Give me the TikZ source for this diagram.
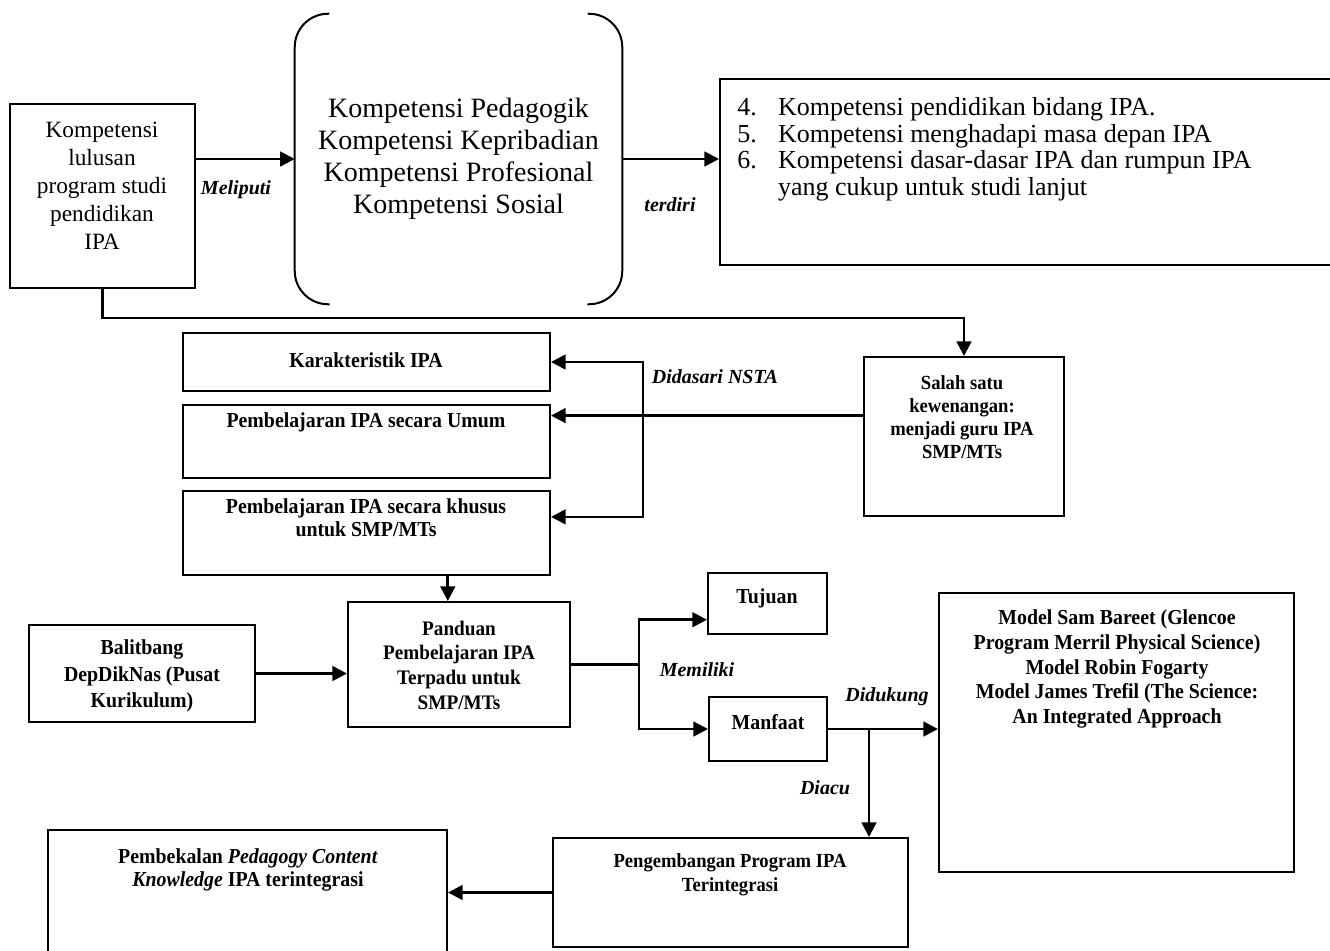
\documentclass[tikz,border=0pt]{standalone}
\usepackage{fontspec}
\setmainfont{Liberation Serif}
\newfontfamily\condfont[FakeStretch=0.93]{Liberation Serif}
\usetikzlibrary{arrows.meta,positioning,fit,calc}
\tikzset{
  boxnode/.style={rectangle,draw=black,line width=1.5pt,inner sep=0pt},
  txtnode/.style={align=center,inner sep=0pt,font=\condfont\bfseries\fontsize{16}{17.5}\selectfont},
  lblnode/.style={inner sep=0pt,font=\fontsize{15}{18}\selectfont\bfseries\itshape},
  arr/.style={-{Triangle[length=11pt,width=11pt]},line width=2pt},
  ln/.style={line width=2pt}
}

\begin{document}
\begin{tikzpicture}[x=0.75pt,y=-0.75pt]
  \useasboundingbox (0,0) rectangle (1330,950);
  \clip (0,0) rectangle (1330,950);

  %% Top row
  \node[boxnode,fit={(10,104)(195,288)}] (kompA) {};
  \node[txtnode,font=\fontsize{17.5}{21}\selectfont] (kompAT) at (102,186) {Kompetensi\\lulusan\\program studi\\pendidikan\\IPA};

  \node[fit={(295,14)(622,304)},inner sep=0pt] (brk) {};
  \draw[line width=1.5pt,rounded corners=25pt] ([xshift=26pt]brk.north west) -| (brk.south west) -- ++(35,0);
  \draw[line width=1.5pt,rounded corners=25pt] ([xshift=-26pt]brk.north east) -| (brk.south east) -- ++(-35,0);
  \node[txtnode,font=\fontsize{21}{24}\selectfont] (brkT) at (brk.center) {Kompetensi Pedagogik\\Kompetensi Kepribadian\\Kompetensi Profesional\\Kompetensi Sosial};

  \node[boxnode,fit={(720,79)(1345,265)}] (listC) {};
  \node[anchor=west,inner sep=0pt,font=\fontsize{19.5}{20}\selectfont] (listCT) at (737,150) {%
    \begin{tabular}{@{}l@{\hspace{16pt}}l@{}}
      4. & Kompetensi pendidikan bidang IPA.\\
      5. & Kompetensi menghadapi masa depan IPA\\
      6. & Kompetensi dasar-dasar IPA dan rumpun IPA\\
         & yang cukup untuk studi lanjut
    \end{tabular}};

  \draw[arr] (kompA.east |- brk.west) -- (brk.west);
  \node[lblnode] (melL) at (236,190) {Meliputi};
  \draw[arr] (brk.east) -- (brk.east -| listC.west);
  \node[lblnode] (terL) at (670,205) {terdiri};

  %% Middle row
  \node[boxnode,fit={(183,333)(550,391)}] (karak) {};
  \node[txtnode] (karakT) at (366,360) {Karakteristik IPA};
  \node[boxnode,fit={(183,405)(550,478)}] (umum) {};
  \node[txtnode] (umumT) at (366,422) {Pembelajaran IPA secara Umum};
  \node[boxnode,fit={(183,491)(550,575)}] (khusus) {};
  \node[txtnode] (khususT) at (366,518) {Pembelajaran IPA secara khusus\\untuk SMP/MTs};

  \node[boxnode,fit={(864,357)(1064,516)}] (salah) {};
  \node[txtnode,font=\condfont\bfseries\fontsize{15}{17.25}\selectfont] (salahT) at (962,417) {Salah satu\\kewenangan:\\menjadi guru IPA\\SMP/MTs};

  \draw[arr] (kompA.south) -- ++(0,29) -| (salah.north);
  \draw[arr] (salah.west |- umum.8) -- (umum.8);
  \coordinate (jN) at ($(umum.8)+(92,0)$);
  \draw[arr] (jN) |- (karak.east);
  \draw[arr] (jN) |- (khusus.5);
  \node[lblnode] (nstaL) at (715,377) {Didasari NSTA};

  %% Lower rows
  \node[boxnode,fit={(348,602)(570,727)}] (pandu) {};
  \node[txtnode,font=\condfont\bfseries\fontsize{15.5}{18.5}\selectfont] (panduT) at (459,665) {Panduan\\Pembelajaran IPA\\Terpadu untuk\\SMP/MTs};
  \draw[arr] (khusus.south -| pandu.100) -- (pandu.100);

  \node[boxnode,fit={(29,625)(255,722)}] (balit) {};
  \node[txtnode,font=\condfont\bfseries\fontsize{16}{20}\selectfont] (balitT) at (142,676) {Balitbang\\DepDikNas (Pusat\\Kurikulum)};
  \draw[arr] (balit.east) -- (balit.east -| pandu.west);

  \node[boxnode,fit={(708,573)(827,634)}] (tujuan) {};
  \node[txtnode] (tujuanT) at (767,598) {Tujuan};
  \node[boxnode,fit={(709,697)(827,761)}] (manfaat) {};
  \node[txtnode] (manfaatT) at (768,722) {Manfaat};

  \draw[ln] (pandu.east) -- ++(68,0) coordinate (jM);
  \draw[arr] (jM) |- (tujuan.195);
  \draw[arr] (jM) |- (manfaat.west);
  \node[lblnode] (memL) at (697,670) {Memiliki};

  \node[boxnode,fit={(939,593)(1294,872)}] (model) {};
  \node[txtnode,font=\condfont\bfseries\fontsize{16}{18.5}\selectfont] (modelT) at (1117,669) {Model Sam Bareet (Glencoe\\Program Merril Physical Science)\\Model Robin Fogarty\\Model James Trefil (The Science:\\An Integrated Approach};
  \draw[arr] (manfaat.east) -- (manfaat.east -| model.west);
  \node[lblnode] (dukL) at (887,697) {Didukung};

  \node[boxnode,fit={(553,838)(908,947)}] (peng) {};
  \node[txtnode,font=\condfont\bfseries\fontsize{15}{18}\selectfont] (pengT) at (730,875) {Pengembangan Program IPA\\Terintegrasi};
  \coordinate (jD) at ($(manfaat.east)+(41,0)$);
  \draw[arr] (jD) -- (jD |- peng.north);
  \node[lblnode] (acuL) at (825,788) {Diacu};

  \node[boxnode,fit={(48,830)(447,960)}] (pemb) {};
  \node[txtnode] (pembT) at (248,870) {Pembekalan \textit{Pedagogy Content}\\\textit{Knowledge} IPA terintegrasi};
  \draw[arr] (peng.west) -- (peng.west -| pemb.east);
\end{tikzpicture}
\end{document}
